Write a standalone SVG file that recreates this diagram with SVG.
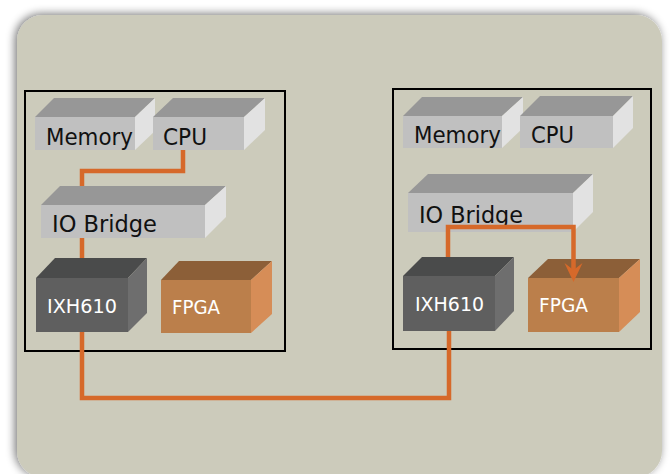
<svg xmlns="http://www.w3.org/2000/svg" width="671" height="474" viewBox="0 0 671 474">
<defs>
<filter id="sh" x="-10%" y="-10%" width="120%" height="120%">
<feGaussianBlur in="SourceAlpha" stdDeviation="5"/>
<feOffset dx="-2" dy="-1" result="b"/>
<feComponentTransfer><feFuncA type="linear" slope="0.55"/></feComponentTransfer>
<feMerge><feMergeNode/><feMergeNode in="SourceGraphic"/></feMerge>
</filter>
</defs>
<style>
.bg{fill:#cccbbb}
.frame{fill:none;stroke:#000;stroke-width:2}
.gf{fill:#c0c0c0}.gt{fill:#979797}.gs{fill:#e2e2e2}
.df{fill:#5f5f5f}.dt{fill:#4a4b4b}.ds{fill:#6e6e6e}
.of{fill:#bb7f4b}.ot{fill:#8c5f38}.os{fill:#d68d57}
.lbl{font-family:"DejaVu Sans",Verdana,sans-serif;font-size:23px;fill:#111}
.wl{font-family:"DejaVu Sans",Verdana,sans-serif;font-size:20px;fill:#fff}
.wire{fill:none;stroke:#d6692a;stroke-width:4.5;stroke-linejoin:miter}
</style>
<rect class="bg" x="17" y="15" width="645" height="462" rx="26" filter="url(#sh)"/>
<g id="left-system">
<rect class="frame" x="25" y="91" width="260" height="260"/>
</g>
<g id="right-system">
<rect class="frame" x="393" y="89" width="258" height="260"/>
</g>
<g id="connectors">
<path class="wire" d="M183,150 V171 H82 V187"/>
<path class="wire" d="M82,238 V259"/>
<path class="wire" d="M82,332 V398 H449 V331"/>
</g>
<g id="left-memory">
<polygon class="gt" points="35,117 54,98 155,98 135,117"/>
<polygon class="gs" points="135,117 155,98 155,131 135,150"/>
<rect class="gf" x="35" y="117" width="100" height="33"/>
<text class="lbl" x="46" y="145" textLength="87" lengthAdjust="spacingAndGlyphs">Memory</text>
</g>
<g id="left-cpu">
<polygon class="gt" points="153,117 173,98 265,98 244,117"/>
<polygon class="gs" points="244,117 265,98 265,130 244,150"/>
<rect class="gf" x="153" y="117" width="91" height="33"/>
<text class="lbl" x="163" y="145" textLength="44" lengthAdjust="spacingAndGlyphs">CPU</text>
</g>
<g id="left-iobridge">
<polygon class="gt" points="41,205 60,186 226,186 205,205"/>
<polygon class="gs" points="205,205 226,186 226,217 205,238"/>
<rect class="gf" x="41" y="205" width="164" height="33"/>
<text class="lbl" x="52" y="232" textLength="105" lengthAdjust="spacingAndGlyphs">IO Bridge</text>
</g>
<g id="left-ixh610">
<polygon class="dt" points="36,278 55,258 147,258 128,278"/>
<polygon class="ds" points="128,278 147,258 147,313 128,332"/>
<rect class="df" x="36" y="278" width="92" height="54"/>
<text class="wl" x="47" y="313" textLength="70" lengthAdjust="spacingAndGlyphs">IXH610</text>
</g>
<g id="left-fpga">
<polygon class="ot" points="161,280 179,261 272,261 251,280"/>
<polygon class="os" points="251,280 272,261 272,314 251,333"/>
<rect class="of" x="161" y="280" width="90" height="53"/>
<text class="wl" x="172" y="314" textLength="48" lengthAdjust="spacingAndGlyphs">FPGA</text>
</g>
<g id="right-memory">
<polygon class="gt" points="403,116 422,97 523,97 502,116"/>
<polygon class="gs" points="502,116 523,97 523,128 502,148"/>
<rect class="gf" x="403" y="116" width="99" height="32"/>
<text class="lbl" x="414" y="143" textLength="87" lengthAdjust="spacingAndGlyphs">Memory</text>
</g>
<g id="right-cpu">
<polygon class="gt" points="520,116 540,96 633,96 613,116"/>
<polygon class="gs" points="613,116 633,96 633,128 613,148"/>
<rect class="gf" x="520" y="116" width="93" height="32"/>
<text class="lbl" x="531" y="143" textLength="43" lengthAdjust="spacingAndGlyphs">CPU</text>
</g>
<g id="right-iobridge">
<polygon class="gt" points="408,193 428,174 593,174 573,193"/>
<polygon class="gs" points="573,193 593,174 593,212 573,232"/>
<rect class="gf" x="408" y="193" width="165" height="39"/>
<text class="lbl" x="419" y="223" textLength="104" lengthAdjust="spacingAndGlyphs">IO Bridge</text>
</g>
<g id="right-ixh610">
<polygon class="dt" points="403,276 422,257 514,257 495,276"/>
<polygon class="ds" points="495,276 514,257 514,311 495,331"/>
<rect class="df" x="403" y="276" width="92" height="55"/>
<text class="wl" x="415" y="311" textLength="69" lengthAdjust="spacingAndGlyphs">IXH610</text>
</g>
<g id="right-fpga">
<polygon class="ot" points="528,278 548,259 640,259 619,278"/>
<polygon class="os" points="619,278 640,259 640,312 619,332"/>
<rect class="of" x="528" y="278" width="91" height="54"/>
<text class="wl" x="539" y="312" textLength="49" lengthAdjust="spacingAndGlyphs">FPGA</text>
</g>
<g id="connectors-top">
<path class="wire" d="M448,257 V227 H573.5 V272"/>
<polygon fill="#d6692a" points="564.5,263 573.5,270 582.5,263 573.5,282"/>
</g>
</svg>
